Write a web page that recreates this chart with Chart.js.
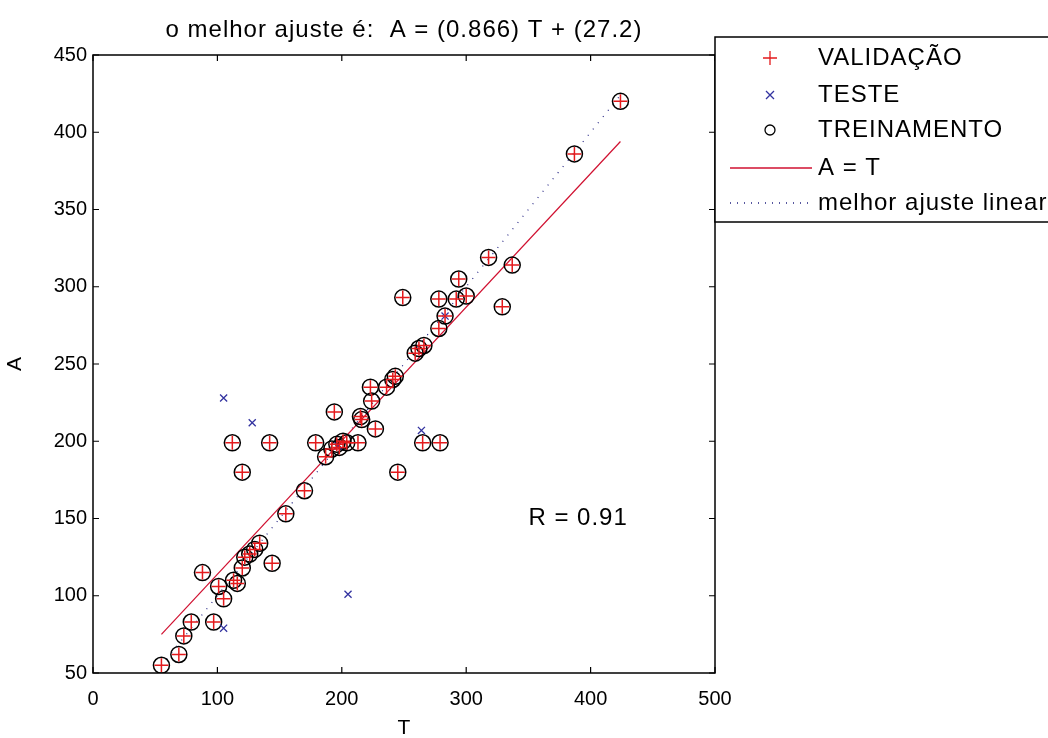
<!DOCTYPE html>
<html>
<head>
<meta charset="utf-8">
<script src="https://cdn.jsdelivr.net/npm/chart.js@4.4.1/dist/chart.umd.min.js"></script>
<style>
  html, body { margin: 0; padding: 0; background: #fff; }
  #wrap { width: 1048px; height: 738px; }
</style>
</head>
<body>
<div id="wrap"><canvas id="postreg"></canvas></div>
<script>
const FONT = "'Liberation Sans', Arial, sans-serif";

const titleText = 'o melhor ajuste é:  A = (0.866) T + (27.2)';
const xTitle = 'T';
const yTitle = 'A';
const rText = 'R = 0.91';
const rPosition = [350, 150];

const xTicks = [0, 100, 200, 300, 400, 500];
const yTicks = [50, 100, 150, 200, 250, 300, 350, 400, 450];

// pontos (T, A)
const pointsT = [424, 387, 318, 337, 294, 249, 278, 292, 300, 329, 283, 278, 266, 262, 259, 243, 241, 236, 223, 224,
  215, 216, 227, 213, 265, 279, 245, 112, 142, 120, 170, 155, 194, 179, 187, 196, 198, 201, 204, 192,
  134, 130, 126, 122, 144, 120, 88, 113, 116, 101, 105, 79, 97, 73, 69, 55];
const pointsA = [420, 386, 319, 314, 305, 293, 292, 292, 294, 287, 281, 273, 262, 260, 257, 242, 240, 235, 235, 226,
  216, 214, 208, 199, 199, 199, 180, 199, 199, 180, 168, 153, 219, 199, 190, 198, 196, 200, 199, 195,
  134, 130, 127, 125, 121, 118, 115, 110, 108, 106, 98, 83, 83, 74, 62, 55];

const testT = [105, 128, 264, 205, 105, 283, 197];
const testA = [228, 212, 207, 101, 79, 281, 197];

// linha vermelha e linha pontilhada (extremos)
const redLineT = [55, 424];
const redLineA = [75, 394];
const dotLineT = [55, 424];
const dotLineA = [55, 424];

const labels = ['VALIDAÇÃO', 'TESTE', 'TREINAMENTO', 'A = T', 'melhor ajuste linear'];

function toXY(xs, ys) {
  return xs.map((x, i) => ({ x: x, y: ys[i] }));
}

const framePlugin = {
  id: 'frame',
  afterDraw(chart) {
    const { ctx, chartArea: a, scales } = chart;
    ctx.save();
    ctx.strokeStyle = '#000';
    ctx.lineWidth = 1.5;
    ctx.strokeRect(a.left, a.top, a.right - a.left, a.bottom - a.top);
    ctx.lineWidth = 1.2;
    const len = 6;
    ctx.beginPath();
    for (const v of xTicks) {
      const px = scales.x.getPixelForValue(v);
      ctx.moveTo(px, a.bottom); ctx.lineTo(px, a.bottom - len);
      ctx.moveTo(px, a.top); ctx.lineTo(px, a.top + len);
    }
    for (const v of yTicks) {
      const py = scales.y.getPixelForValue(v);
      ctx.moveTo(a.left, py); ctx.lineTo(a.left + len, py);
      ctx.moveTo(a.right, py); ctx.lineTo(a.right - len, py);
    }
    ctx.stroke();

    ctx.fillStyle = '#000';
    ctx.textAlign = 'center';
    ctx.textBaseline = 'middle';
    ctx.font = '21px ' + FONT;
    ctx.fillText(xTitle, (a.left + a.right) / 2, 728);
    ctx.save();
    ctx.translate(15, (a.top + a.bottom) / 2);
    ctx.rotate(-Math.PI / 2);
    ctx.fillText(yTitle, 0, 0);
    ctx.restore();

    ctx.font = '24px ' + FONT;
    ctx.letterSpacing = '1px';
    ctx.fillText(titleText, (a.left + a.right) / 2, 30);

    ctx.textAlign = 'left';
    ctx.fillText(rText, scales.x.getPixelForValue(rPosition[0]), scales.y.getPixelForValue(rPosition[1]));

    // legenda
    const lx = a.right, ly = 37, lw = 1048 - a.right + 2, lh = 185;
    ctx.fillStyle = '#fff';
    ctx.fillRect(lx, ly, lw, lh);
    ctx.strokeStyle = '#000';
    ctx.lineWidth = 1.5;
    ctx.strokeRect(lx, ly, lw, lh);
    const rowY = [58, 95, 130, 168, 203];
    const mx = 770;
    ctx.fillStyle = '#000';
    labels.forEach((lab, i) => {
      ctx.fillText(lab, 818, rowY[i]);
    });
    ctx.lineWidth = 1.3;
    ctx.strokeStyle = '#e41a1c';
    ctx.beginPath();
    ctx.moveTo(mx - 7, rowY[0]); ctx.lineTo(mx + 7, rowY[0]);
    ctx.moveTo(mx, rowY[0] - 7); ctx.lineTo(mx, rowY[0] + 7);
    ctx.stroke();
    ctx.strokeStyle = '#3333a0';
    ctx.beginPath();
    ctx.moveTo(mx - 4, rowY[1] - 4); ctx.lineTo(mx + 4, rowY[1] + 4);
    ctx.moveTo(mx - 4, rowY[1] + 4); ctx.lineTo(mx + 4, rowY[1] - 4);
    ctx.stroke();
    ctx.strokeStyle = '#000';
    ctx.beginPath();
    ctx.arc(mx, rowY[2], 5, 0, Math.PI * 2);
    ctx.stroke();
    ctx.strokeStyle = '#d01030';
    ctx.beginPath();
    ctx.moveTo(730, rowY[3]); ctx.lineTo(812, rowY[3]);
    ctx.stroke();
    ctx.strokeStyle = '#202080';
    ctx.setLineDash([1, 6]);
    ctx.beginPath();
    ctx.moveTo(730, rowY[4]); ctx.lineTo(812, rowY[4]);
    ctx.stroke();
    ctx.restore();
  }
};

new Chart(document.getElementById('postreg'), {
  type: 'scatter',
  data: {
    datasets: [
      {
        label: labels[0],
        data: toXY(pointsT, pointsA),
        pointStyle: 'cross',
        pointRadius: 7,
        borderColor: '#e41a1c',
        borderWidth: 1.5,
      },
      {
        label: labels[1],
        data: toXY(testT, testA),
        pointStyle: 'crossRot',
        pointRadius: 5,
        borderColor: '#3333a0',
        borderWidth: 1.3,
      },
      {
        label: labels[2],
        data: toXY(pointsT, pointsA),
        pointStyle: 'circle',
        pointRadius: 8,
        backgroundColor: 'rgba(0,0,0,0)',
        borderColor: '#000',
        borderWidth: 1.5,
      },
      {
        label: labels[3],
        type: 'line',
        data: toXY(redLineT, redLineA),
        borderColor: '#d01030',
        borderWidth: 1.2,
        pointRadius: 0,
      },
      {
        label: labels[4],
        type: 'line',
        data: toXY(dotLineT, dotLineA),
        borderColor: '#202080',
        borderWidth: 1.2,
        borderDash: [1, 7],
        pointRadius: 0,
      },
    ],
  },
  options: {
    responsive: true,
    maintainAspectRatio: false,
    animation: false,
    devicePixelRatio: 1,
    layout: { padding: { left: 0, right: 333, top: 55, bottom: 0 } },
    plugins: {
      legend: { display: false },
      tooltip: { enabled: false },
      title: { display: false },
    },
    scales: {
      x: {
        type: 'linear',
        min: 0,
        max: 500,
        afterFit: (scale) => { scale.height = 65; },
        afterBuildTicks: (scale) => { scale.ticks = xTicks.map((v) => ({ value: v })); },
        grid: { display: false, drawTicks: false },
        border: { display: false },
        ticks: { padding: 14, color: '#000', font: { family: FONT, size: 20 } },
      },
      y: {
        type: 'linear',
        min: 50,
        max: 450,
        afterFit: (scale) => { scale.width = 93; },
        afterBuildTicks: (scale) => { scale.ticks = yTicks.map((v) => ({ value: v })); },
        grid: { display: false, drawTicks: false },
        border: { display: false },
        ticks: { padding: 6, color: '#000', font: { family: FONT, size: 20 } },
      },
    },
  },
  plugins: [framePlugin],
});
</script>
</body>
</html>
